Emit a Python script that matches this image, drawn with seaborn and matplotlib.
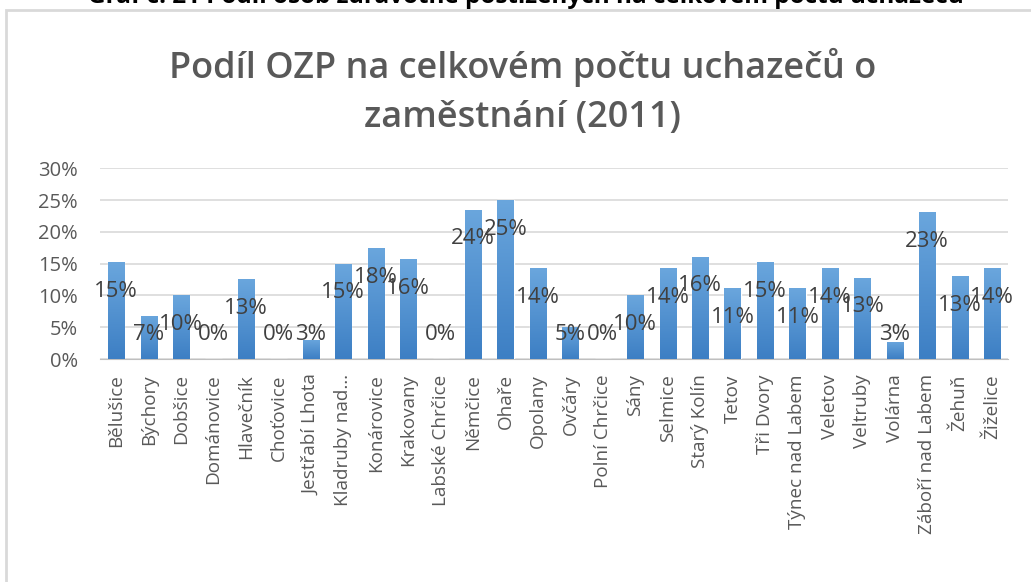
import numpy as np
import pandas as pd
import matplotlib.pyplot as plt
import seaborn as sns
from matplotlib.patches import Rectangle

# Data
obce = ["Bělušice", "Býchory", "Dobšice", "Dománovice", "Hlavečník", "Choťovice",
        "Jestřabí Lhota", "Kladruby nad…", "Konárovice", "Krakovany", "Labské Chrčice",
        "Němčice", "Ohaře", "Opolany", "Ovčáry", "Polní Chrčice", "Sány", "Selmice",
        "Starý Kolín", "Tetov", "Tři Dvory", "Týnec nad Labem", "Veletov", "Veltruby",
        "Volárna", "Záboří nad Labem", "Žehuň", "Žiželice"]
podil = [0.152, 0.068, 0.100, 0.0, 0.126, 0.0, 0.030, 0.150, 0.175, 0.157, 0.0,
         0.235, 0.250, 0.143, 0.051, 0.0, 0.100, 0.143, 0.161, 0.111, 0.152, 0.111,
         0.143, 0.128, 0.027, 0.231, 0.130, 0.143]
yticks = [0, 0.05, 0.10, 0.15, 0.20, 0.25, 0.30]

title = "Podíl OZP na celkovém počtu uchazečů o\nzaměstnání (2011)"
caption = "Graf č. 21 Podíl osob zdravotně postižených na celkovém počtu uchazečů"

df = pd.DataFrame({"obec": obce, "podil": podil})

sns.set_style("white")
plt.rcParams["font.family"] = ["Open Sans", "DejaVu Sans"]
gray = "#595959"

fig = plt.figure(figsize=(10.31, 5.82), dpi=100)
ax = fig.add_axes([0.097, 0.383, 0.881, 0.328])

sns.barplot(data=df, x="obec", y="podil", color="#4a8fd4", width=0.5,
            saturation=1, ax=ax, zorder=3)

# vertical gradient on bars like the Excel original
grad = np.linspace(0, 1, 100).reshape(-1, 1)
cmap = sns.blend_palette(["#3d7fc4", "#6aa6dd"], as_cmap=True)
for p in ax.patches:
    if p.get_height() > 0:
        im = ax.imshow(grad, cmap=cmap, aspect="auto", origin="lower", zorder=3.5,
                       extent=[p.get_x(), p.get_x() + p.get_width(), 0, p.get_height()])
        im.set_clip_path(p)

ax.set_ylim(0, 0.30)
ax.set_xlim(-0.5, len(obce) - 0.5)
ax.set_yticks(yticks)
ax.set_yticklabels([f"{int(round(t * 100))}%" for t in yticks])
ax.yaxis.grid(True, color="#d9d9d9", linewidth=1.2, zorder=0)
ax.set_xlabel("")
ax.set_ylabel("")
for s in ["top", "right", "left"]:
    ax.spines[s].set_visible(False)
ax.spines["bottom"].set_color("#bfbfbf")
ax.tick_params(axis="x", rotation=90, length=0, pad=11, labelsize=13.6, labelcolor=gray)
ax.tick_params(axis="y", length=0, pad=16, labelsize=14.5, labelcolor=gray)

# data labels (Excel "inside end", clamped near the axis)
for i, v in enumerate(podil):
    ax.text(i, max(v - 0.046, 0.038), f"{v:.0%}", ha="center", va="center",
            fontsize=16, color="#404040", zorder=5)

fig.text(0.507, 0.842, title, ha="center", va="center", fontsize=26,
         fontweight="semibold", color=gray, linespacing=1.45)
fig.text(0.51, 1 - 3 / 582, caption, ha="center", va="baseline", fontsize=17.5,
         fontweight="bold", color="black")

# chart border
fig.patches.append(Rectangle((6 / 1031, -0.1), 1.1, 1 - 10 / 582 + 0.1,
                             transform=fig.transFigure, fill=False,
                             edgecolor="#d9d9d9", linewidth=2))

fig.savefig("out.png", dpi=100)
